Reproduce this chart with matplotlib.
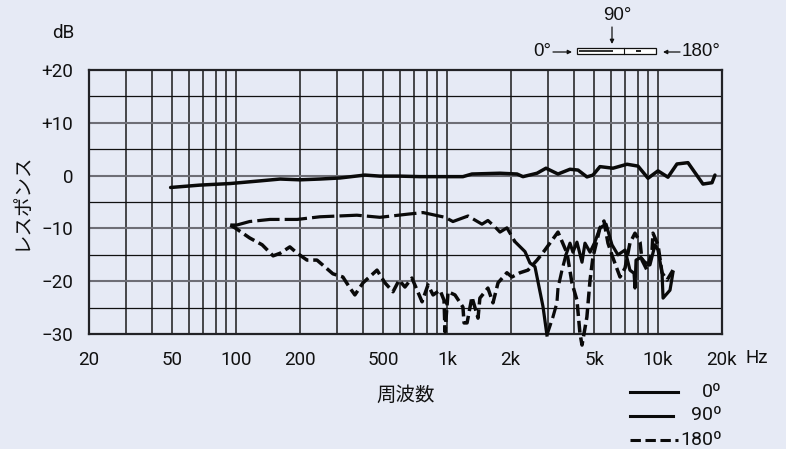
import matplotlib
matplotlib.use("Agg")
import matplotlib.pyplot as plt
from matplotlib.patches import Rectangle
from matplotlib.lines import Line2D

BG = "#E6EAF5"
JP = ["Noto Sans CJK JP", "DejaVu Sans"]

tick_freqs = [20, 50, 100, 200, 500, 1000, 2000, 5000, 10000, 20000]
tick_names = ["20", "50", "100", "200", "500", "1k", "2k", "5k", "10k", "20k"]
grid_freqs = [30, 40, 50, 60, 70, 80, 90, 100, 200, 300, 400, 500, 600, 700, 800, 900,
              1000, 2000, 3000, 4000, 5000, 6000, 7000, 8000, 9000, 10000]
db_major = [10, 0, -10, -20]
db_minor = [15, 5, -5, -15, -25]
db_ticks = [20, 10, 0, -10, -20, -30]
db_names = ["+20", "+10", "0", "\u221210", "\u221220", "\u221230"]

f_0 = [49, 67.5, 94, 130, 162, 201, 250, 311, 408, 481, 599, 745, 957, 1190, 1313, 1783,
       2148, 2291, 2672, 2946, 3358, 3828, 4178, 4606, 4920, 5309, 6120, 7130, 8040,
       8970, 10000, 11150, 12300, 13870, 16340, 18030, 18620]
db_0 = [-2.25, -1.8, -1.5, -1.0, -0.65, -0.8, -0.65, -0.45, 0.1, -0.1, -0.1, -0.2, -0.2,
        -0.2, 0.3, 0.45, 0.3, -0.2, 0.45, 1.4, 0.3, 1.2, 1.05, -0.25, 0.1, 1.7, 1.4,
        2.15, 1.8, -0.5, 0.9, -0.3, 2.2, 2.45, -1.6, -1.35, 0.1]

f_90 = [94, 101, 116, 145, 195, 250, 374, 481, 653, 770, 979, 1067, 1258, 1465, 1563, 1687,
        1783, 1923, 2098, 2343, 2473, 2612, 2851, 2976, 3177, 3319, 3358, 3508, 3664,
        3828, 3954, 4130, 4365, 4508, 4764, 5023, 5309, 5675, 6053, 6457, 6982, 7362,
        7700, 7780, 7870, 8305, 8670, 9162, 9683, 10000, 10450, 10570, 11400, 11780]
db_90 = [-9.36, -9.36, -8.7, -8.3, -8.3, -7.8, -7.5, -7.9, -7.3, -7.0, -7.9, -8.7, -7.65,
         -9.2, -8.5, -9.7, -10.7, -9.9, -12.5, -14.4, -16.55, -17.25, -24.8, -30.2, -26.8,
         -24.1, -21.3, -17.9, -15.0, -12.8, -14.5, -12.6, -16.4, -12.8, -14.5, -12.6, -9.9,
         -9.2, -13.1, -15.0, -14.1, -17.9, -18.5, -21.3, -16.0, -15.5, -16.4, -16.9, -13.1,
         -14.1, -18.4, -23.2, -21.7, -18.3]

f_180 = [94, 99, 116, 133, 150, 162, 180, 195, 217, 242, 288, 321, 347, 366, 400, 466, 508,
         555, 593, 632, 682, 762, 813, 859, 927, 968, 979, 1012, 1091, 1190, 1205, 1245,
         1313, 1403, 1432, 1563, 1652, 1746, 1923, 2032, 2218, 2421, 2673, 2911, 3358,
         3707, 3910, 4130, 4266, 4365, 4603, 4764, 4920, 5309, 5546, 5794, 6120, 6607,
         6982, 7362, 7780, 8222, 8397, 8872, 9376, 9470, 10000, 10450, 11040, 11780]
db_180 = [-9.4, -9.9, -11.8, -13.1, -15.2, -14.7, -13.5, -14.7, -16, -16, -18.6, -19.2, -21.3,
          -22.6, -20.3, -17.9, -20.3, -22, -19.8, -21.1, -19.4, -23.9, -20.7, -22.6, -21.7,
          -23.6, -29.6, -22, -22.6, -24.9, -27.9, -27.9, -23, -27, -23.2, -21.3, -24.1,
          -20.3, -18.4, -19.2, -18.4, -17.9, -16, -14.1, -10.7, -14.7, -20.3, -23.6, -29.8,
          -32.1, -26.8, -19.8, -15.4, -9.9, -8.6, -12.8, -15.6, -19.2, -17.5, -12.8, -10.9,
          -12.6, -16, -17.9, -14.1, -10.9, -13.1, -18.4, -19.8, -17.9]


def fx(x):
    return x / 786


def fy(y):
    return 1 - y / 449


def label(fig, x, y, s, size=13.5, ha="center", family="Roboto", **kw):
    fig.text(fx(x), fy(y), s, ha=ha, va="center", fontsize=size, family=family, color="#111111", **kw)


def arrow(fig, x0, y0, x1, y1):
    fig.add_artist(matplotlib.patches.FancyArrowPatch(
        (fx(x0), fy(y0)), (fx(x1), fy(y1)), transform=fig.transFigure, arrowstyle="-|>",
        mutation_scale=6, lw=0.9, color="#111111", shrinkA=0, shrinkB=0))


def main():
    fig = plt.figure(figsize=(7.86, 4.49), dpi=100, facecolor=BG)
    ax = fig.add_axes([fx(88.5), fy(334), (721.5 - 88.5) / 786, (334 - 70) / 449], facecolor=BG)
    ax.set_xscale("log")
    ax.set_xlim(20, 20000)
    ax.set_ylim(-30, 20)

    for f in grid_freqs:
        ax.axvline(f, color="#1a1a1a", lw=1.1, zorder=1)
    for d in db_major:
        ax.axhline(d, color="#6e6e76", lw=1.5, zorder=1)
    for d in db_minor:
        ax.axhline(d, color="#111111", lw=0.9, zorder=1)

    ax.plot(f_0, db_0, color="#0a0a0a", lw=2.5, solid_capstyle="round", solid_joinstyle="round", zorder=3, clip_on=False)
    # the 90 degree trace is broken up on its flat part and on the way back up
    ax.plot(f_90[:19], db_90[:19], color="#0a0a0a", lw=2.3, dashes=(7, 1.6), dash_joinstyle="round", zorder=3)
    ax.plot(f_90[18:24], db_90[18:24], color="#0a0a0a", lw=2.3, solid_joinstyle="round", zorder=3, clip_on=False)
    ax.plot(f_90[23:29], db_90[23:29], color="#0a0a0a", lw=2.3, dashes=(4, 1.6), zorder=3, clip_on=False)
    ax.plot(f_90[28:], db_90[28:], color="#0a0a0a", lw=2.3, solid_joinstyle="round", zorder=3)
    ax.plot(f_180, db_180, color="#0a0a0a", lw=2.5, dashes=(3.4, 1.4), dash_joinstyle="round", zorder=3, clip_on=False)

    ax.set_xticks(tick_freqs)
    ax.set_xticklabels(tick_names)
    ax.minorticks_off()
    ax.set_yticks(db_ticks)
    ax.set_yticklabels(db_names)
    ax.tick_params(length=0, labelsize=13.5, labelcolor="#111111")
    ax.tick_params(axis="y", pad=11)
    ax.tick_params(axis="x", pad=12)
    for t in ax.get_xticklabels() + ax.get_yticklabels():
        t.set_family("Roboto")
    for s in ax.spines.values():
        s.set_linewidth(1.6)
        s.set_color("#222226")

    label(fig, 63, 33, "dB")
    label(fig, 757, 358, "Hz")
    label(fig, 21, 201, "レスポンス", size=14, family=JP, rotation=90)
    label(fig, 406, 395, "周波数", size=14, family=JP)

    # position diagram above the plot
    fig.add_artist(Rectangle((fx(577), fy(54)), 79 / 786, 6 / 449, transform=fig.transFigure,
                             fc="white", ec="#111111", lw=0.9))
    fig.add_artist(Rectangle((fx(579), fy(52.3)), 34 / 786, 2.4 / 449, transform=fig.transFigure,
                             fc="#333333", ec="none"))
    fig.add_artist(Line2D([fx(624), fx(624)], [fy(48), fy(54)], color="#111111", lw=0.8))
    fig.add_artist(Rectangle((fx(636), fy(52)), 4.5 / 786, 2 / 449, transform=fig.transFigure,
                             fc="#222222", ec="none"))
    arrow(fig, 553, 52, 572, 52)
    arrow(fig, 680, 52, 663, 52)
    arrow(fig, 612, 27, 612, 44)
    label(fig, 617, 16, "90°", size=13.5, family="Liberation Sans")
    label(fig, 542, 52, "0°", size=13.5, family="Liberation Sans")
    label(fig, 701, 52, "180°", size=13.5, family="Liberation Sans")

    # legend, placed by hand like the original
    for y, x1, dashes in [(392, 678, None), (415.5, 673, None), (440, 678, (3.4, 1.5))]:
        line = Line2D([fx(630), fx(x1)], [fy(y), fy(y)], color="#0a0a0a", lw=2.2)
        if dashes:
            line.set_dashes(dashes)
        fig.add_artist(line)
    label(fig, 722, 392, "0º", size=14, ha="right")
    label(fig, 722, 415, "90º", size=14, ha="right")
    label(fig, 722, 440, "180º", size=14, ha="right")

    fig.savefig("out.png", dpi=100, facecolor=BG)


if __name__ == '__main__':
    main()
